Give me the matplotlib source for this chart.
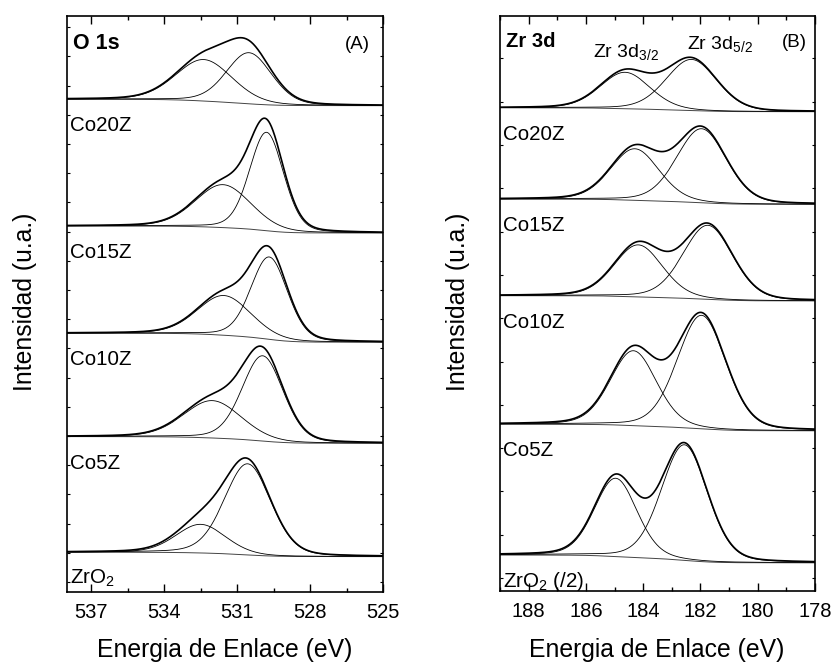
import numpy as np
import matplotlib
matplotlib.use('Agg')
import matplotlib.pyplot as plt
from matplotlib.ticker import MultipleLocator

plt.rcParams['font.family'] = ['Liberation Sans', 'DejaVu Sans']
plt.rcParams['mathtext.fontset'] = 'custom'
plt.rcParams['mathtext.rm'] = 'Liberation Sans'
plt.rcParams['mathtext.it'] = 'Liberation Sans:italic'
plt.rcParams['mathtext.bf'] = 'Liberation Sans:bold'

# ---- O 1s (panel A), top spectrum first ----
o1s_labels = ['Co20Z', 'Co15Z', 'Co10Z', 'Co5Z', 'ZrO$_2$']
o1s_base_high = [16.53, 12.19, 8.52, 4.98, 1.02]   # baseline at high BE (left)
o1s_base_low = [16.31, 11.95, 8.21, 4.75, 0.87]    # baseline at low BE (right)
o1s_p1_pos = [532.37, 531.58, 531.54, 532.02, 532.50]
o1s_p1_height = [1.42, 1.47, 1.36, 1.28, 0.98]
o1s_p1_fwhm = [2.75, 2.70, 2.60, 2.80, 2.40]
o1s_p2_pos = [530.51, 529.79, 529.68, 529.95, 530.57]
o1s_p2_height = [1.75, 3.37, 2.82, 2.92, 3.12]
o1s_p2_fwhm = [2.20, 1.65, 1.78, 2.00, 2.25]

# ---- Zr 3d (panel B) ----
zr_labels = ['Co20Z', 'Co15Z', 'Co10Z', 'Co5Z', 'ZrO$_2$ (/2)']
zr_base_high = [10.86, 8.75, 6.52, 3.55, 0.53]
zr_base_low = [10.77, 8.63, 6.40, 3.40, 0.35]
zr_p1_pos = [184.63, 184.29, 184.17, 184.34, 184.96]   # Zr 3d3/2
zr_p1_height = [0.84, 1.19, 1.20, 1.73, 1.81]
zr_p1_fwhm = [2.05, 2.00, 2.00, 1.90, 1.75]
zr_p2_pos = [182.31, 181.96, 181.74, 181.96, 182.56]   # Zr 3d5/2
zr_p2_height = [1.18, 1.71, 1.71, 2.62, 2.67]
zr_p2_fwhm = [2.10, 2.05, 2.05, 2.00, 1.90]


def pseudo_voigt(e, pos, height, fwhm, eta=0.2):
    d = (e - pos) / fwhm
    return height * ((1 - eta) * np.exp(-4 * np.log(2) * d**2) + eta / (1 + 4 * d**2))


def draw_panel(ax, energy, labels, b_hi, b_lo, p1, h1, w1, p2, h2, w2):
    for i in range(len(labels)):
        c1 = pseudo_voigt(energy, p1[i], h1[i], w1[i])
        c2 = pseudo_voigt(energy, p2[i], h2[i], w2[i])
        # Shirley-like step background (energy is ascending)
        cum = np.cumsum(c1 + c2)
        base = b_lo[i] + (b_hi[i] - b_lo[i]) * cum / cum[-1]
        ax.plot(energy, base, color='#444444', lw=0.7)
        ax.plot(energy, base + c1, color='black', lw=0.6)
        ax.plot(energy, base + c2, color='black', lw=0.6)
        ax.plot(energy, base + c1 + c2, color='black', lw=1.2)
        ax.annotate(labels[i], xy=(0.01, b_hi[i]), xycoords=('axes fraction', 'data'),
                    xytext=(0, -23), textcoords='offset points', va='baseline',
                    ha='left', fontsize=14.8)


def style_axis(ax):
    for s in ax.spines.values():
        s.set_linewidth(1.2)
    ax.tick_params(axis='x', which='both', direction='in', top=True, bottom=True,
                   labelsize=14.5, pad=8)
    ax.tick_params(axis='x', which='major', length=6, width=1)
    ax.tick_params(axis='x', which='minor', length=3, width=1)
    ax.tick_params(axis='y', which='both', direction='in', left=True, right=True,
                   length=2.5, width=0.8, labelleft=False)


fig = plt.figure(figsize=(8.35, 6.62), dpi=100)
axA = fig.add_axes([0.0802, 0.1057, 0.3785, 0.8701])
axB = fig.add_axes([0.5988, 0.1073, 0.3772, 0.8685])

eA = np.linspace(525, 538, 1400)
draw_panel(axA, eA, o1s_labels, o1s_base_high, o1s_base_low,
           o1s_p1_pos, o1s_p1_height, o1s_p1_fwhm, o1s_p2_pos, o1s_p2_height, o1s_p2_fwhm)
axA.set_xlim(538, 525)
axA.set_ylim(-0.342, 19.38)
axA.xaxis.set_major_locator(MultipleLocator(3))
axA.xaxis.set_minor_locator(MultipleLocator(1.5))
axA.yaxis.set_major_locator(MultipleLocator(1))
style_axis(axA)
axA.text(0.02, 0.942, 'O 1s', transform=axA.transAxes, fontsize=15.5, fontweight='bold', va='baseline')
axA.text(0.96, 0.942, '(A)', transform=axA.transAxes, fontsize=13.5, ha='right', va='baseline')

eB = np.linspace(178, 189, 1200)
draw_panel(axB, eB, zr_labels, zr_base_high, zr_base_low,
           zr_p1_pos, zr_p1_height, zr_p1_fwhm, zr_p2_pos, zr_p2_height, zr_p2_fwhm)
axB.set_xlim(189, 178)
axB.set_ylim(-0.30, 12.98)
axB.xaxis.set_major_locator(MultipleLocator(2))
axB.xaxis.set_minor_locator(MultipleLocator(1))
axB.yaxis.set_major_locator(MultipleLocator(1))
style_axis(axB)
axB.text(0.02, 0.946, 'Zr 3d', transform=axB.transAxes, fontsize=14.5, fontweight='bold', va='baseline')
axB.text(0.975, 0.946, '(B)', transform=axB.transAxes, fontsize=13.5, ha='right', va='baseline')
axB.text(0.294, 0.928, 'Zr 3d$_{3/2}$', transform=axB.transAxes, fontsize=14, va='baseline')
axB.text(0.595, 0.942, 'Zr 3d$_{5/2}$', transform=axB.transAxes, fontsize=14, va='baseline')

fig.text(224.5 / 835, 0.0071, 'Energia de Enlace (eV)', ha='center', va='baseline', fontsize=17.8)
fig.text(656.7 / 835, 0.0071, 'Energia de Enlace (eV)', ha='center', va='baseline', fontsize=17.8)
fig.text(25 / 835, 1 - 302 / 662, 'Intensidad (u.a.)', rotation=90, ha='center', va='center', fontsize=17.8)
fig.text(458 / 835, 1 - 302 / 662, 'Intensidad (u.a.)', rotation=90, ha='center', va='center', fontsize=17.8)

fig.savefig('out.png', dpi=100)
